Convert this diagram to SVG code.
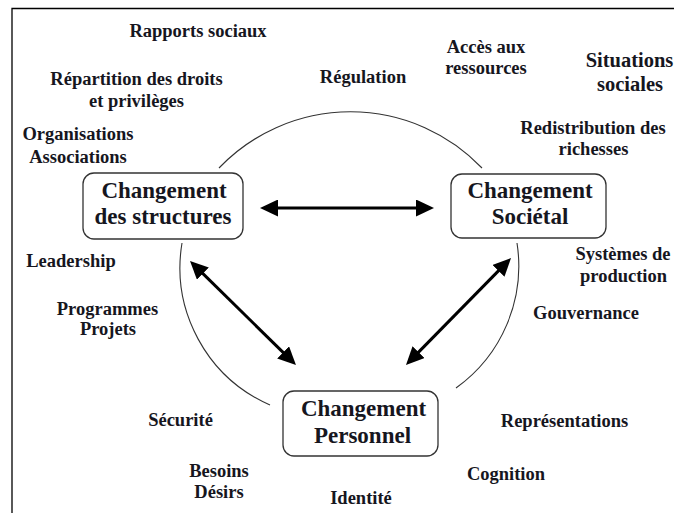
<svg xmlns="http://www.w3.org/2000/svg" width="676" height="513" viewBox="0 0 676 513">
<style>
text{font-family:"Liberation Serif","Times New Roman",serif;font-weight:bold;fill:#16161e;text-anchor:middle}
.lb{font-size:18.5px}
.lg{font-size:20.5px}
.bx{font-size:23px}
.box{fill:#fff;stroke:#333;stroke-width:1.3}
.arc{fill:none;stroke:#333;stroke-width:1.1}
.arr{stroke:#000;stroke-width:3;fill:none}
.frame{stroke:#000;stroke-width:1.3;fill:none}
</style>
<defs>
<marker id="ah" viewBox="0 0 18 17" refX="6" refY="8.5" markerWidth="18" markerHeight="17" markerUnits="userSpaceOnUse" orient="auto-start-reverse">
<path d="M0,0 L18,8.5 L0,17 Z" fill="#000"/>
</marker>
</defs>
<rect width="676" height="513" fill="#fff"/>
<path class="frame" d="M12,513 V8.5 H674"/>
<g id="cycle">
<path class="arc" d="M219,168 A182,182 0 0 1 482,168"/>
<path class="arc" d="M182,243 A150,150 0 0 0 270,405"/>
<path class="arc" d="M517,243 A150,150 0 0 1 456,388"/>
</g>
<g id="connectors">
<line class="arr" x1="272" y1="208" x2="422" y2="208" marker-start="url(#ah)" marker-end="url(#ah)"/>
<line class="arr" x1="198.6" y1="269.4" x2="287.4" y2="356.6" marker-start="url(#ah)" marker-end="url(#ah)"/>
<line class="arr" x1="502.6" y1="266.6" x2="414.4" y2="356.4" marker-start="url(#ah)" marker-end="url(#ah)"/>
</g>
<g id="node-structures">
<rect class="box" x="83" y="173" width="160" height="66" rx="11"/>
<text class="bx" x="164" y="197.5">Changement</text>
<text class="bx" x="163" y="223.5">des structures</text>
</g>
<g id="node-societal">
<rect class="box" x="451" y="174" width="155" height="64" rx="11"/>
<text class="bx" x="530" y="197.5">Changement</text>
<text class="bx" x="530" y="224">Sociétal</text>
</g>
<g id="node-personnel">
<rect class="box" x="283" y="391" width="155" height="65" rx="11"/>
<text class="bx" x="363.5" y="416">Changement</text>
<text class="bx" x="362.5" y="442.5">Personnel</text>
</g>
<g id="labels">
<text class="lb" x="198" y="36.5">Rapports sociaux</text>
<text class="lb" x="136.5" y="85">Répartition des droits</text>
<text class="lb" x="136.5" y="106.5">et privilèges</text>
<text class="lb" x="78" y="140">Organisations</text>
<text class="lb" x="78" y="162.5">Associations</text>
<text class="lb" x="363" y="83">Régulation</text>
<text class="lb" x="486" y="52.5">Accès aux</text>
<text class="lb" x="486" y="74">ressources</text>
<text class="lg" x="629.5" y="66.5">Situations</text>
<text class="lg" x="630" y="90.5">sociales</text>
<text class="lb" x="593" y="133.5">Redistribution des</text>
<text class="lb" x="593.5" y="155">richesses</text>
<text class="lb" x="71" y="267">Leadership</text>
<text class="lb" x="107.5" y="315">Programmes</text>
<text class="lb" x="108" y="335">Projets</text>
<text class="lb" x="623" y="260">Systèmes de</text>
<text class="lb" x="623.5" y="281.5">production</text>
<text class="lb" x="586" y="318.5">Gouvernance</text>
<text class="lb" x="180.5" y="426">Sécurité</text>
<text class="lb" x="219" y="476.5">Besoins</text>
<text class="lb" x="219" y="497.5">Désirs</text>
<text class="lb" x="361" y="503.5">Identité</text>
<text class="lb" x="564.5" y="426.5">Représentations</text>
<text class="lb" x="506" y="479.5">Cognition</text>
</g>
</svg>
